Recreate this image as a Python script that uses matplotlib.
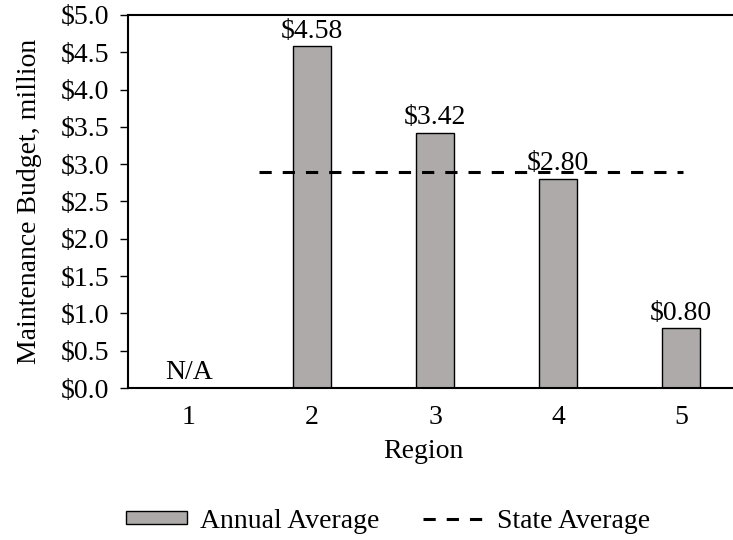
import matplotlib
matplotlib.use("Agg")
import matplotlib.pyplot as plt
from matplotlib.lines import Line2D
from matplotlib.patches import Patch

# Regional maintenance budgets (millions of dollars)
regions = ["1", "2", "3", "4", "5"]
budgets = [None, 4.58, 3.42, 2.80, 0.80]
bar_labels = ["N/A", "$4.58", "$3.42", "$2.80", "$0.80"]
state_avg = 2.90
state_avg_x = [1.57, 5.02]
y_ticks = [0.0, 0.5, 1.0, 1.5, 2.0, 2.5, 3.0, 3.5, 4.0, 4.5, 5.0]

plt.rcParams["font.family"] = ["Liberation Serif", "DejaVu Serif"]
FS = 20

fig = plt.figure(figsize=(7.33, 5.40), dpi=100)
W, H = 733, 540
# axes box in pixel units: left edge, bottom edge, width, height
ax = fig.add_axes([127.5 / W, (H - 388) / H, 615 / W, 373 / H])

xs = list(range(1, len(regions) + 1))
bar_color = "#AEAAAA"
for x, v in zip(xs, budgets):
    if v is not None:
        ax.bar(x, v, width=0.317, color=bar_color, edgecolor="black", linewidth=1.0, zorder=2)

for x, v, lab in zip(xs, budgets, bar_labels):
    ax.annotate(lab, (x, v if v is not None else 0.0), xytext=(0, 2),
                textcoords="offset points", ha="center", va="bottom", fontsize=FS, zorder=4)

ax.plot(state_avg_x, [state_avg, state_avg], color="black", linewidth=2.2,
        dashes=(4, 3.6), zorder=3)

ax.set_xlim(0.5, 5.5)
ax.set_ylim(0, 5.0)
ax.set_xticks(xs)
ax.set_xticklabels(regions, fontsize=FS)
ax.set_yticks(y_ticks)
ax.set_yticklabels([f"${t:.1f}" for t in y_ticks], fontsize=FS)
ax.tick_params(axis="x", length=0, pad=12)
ax.tick_params(axis="y", direction="out", length=6, width=1.0, pad=7)

for side in ["top", "bottom", "left"]:
    ax.spines[side].set_linewidth(1.5)
ax.spines["right"].set_visible(False)

ax.set_xlabel("Region", fontsize=FS)
ax.set_ylabel("Maintenance Budget, million", fontsize=FS)
ax.xaxis.set_label_coords((423 - 127.5) / 615, -(452 - 388) / 373, transform=ax.transAxes)
ax.xaxis.label.set_va("center")
ax.yaxis.set_label_coords(-(127.5 - 30) / 615, 0.5, transform=ax.transAxes)
ax.yaxis.label.set_va("center")

handles = [
    Patch(facecolor=bar_color, edgecolor="black", linewidth=1.0),
    Line2D([0], [0], color="black", linewidth=2.2, dashes=(4, 3.6)),
]
fig.legend(handles, ["Annual Average", "State Average"], loc="center",
           bbox_to_anchor=(388 / W, 1 - 521 / H), ncol=2, frameon=False,
           fontsize=FS, handlelength=2.2, handleheight=0.38, handletextpad=0.45,
           columnspacing=1.6)

fig.savefig("out.png", dpi=100)
